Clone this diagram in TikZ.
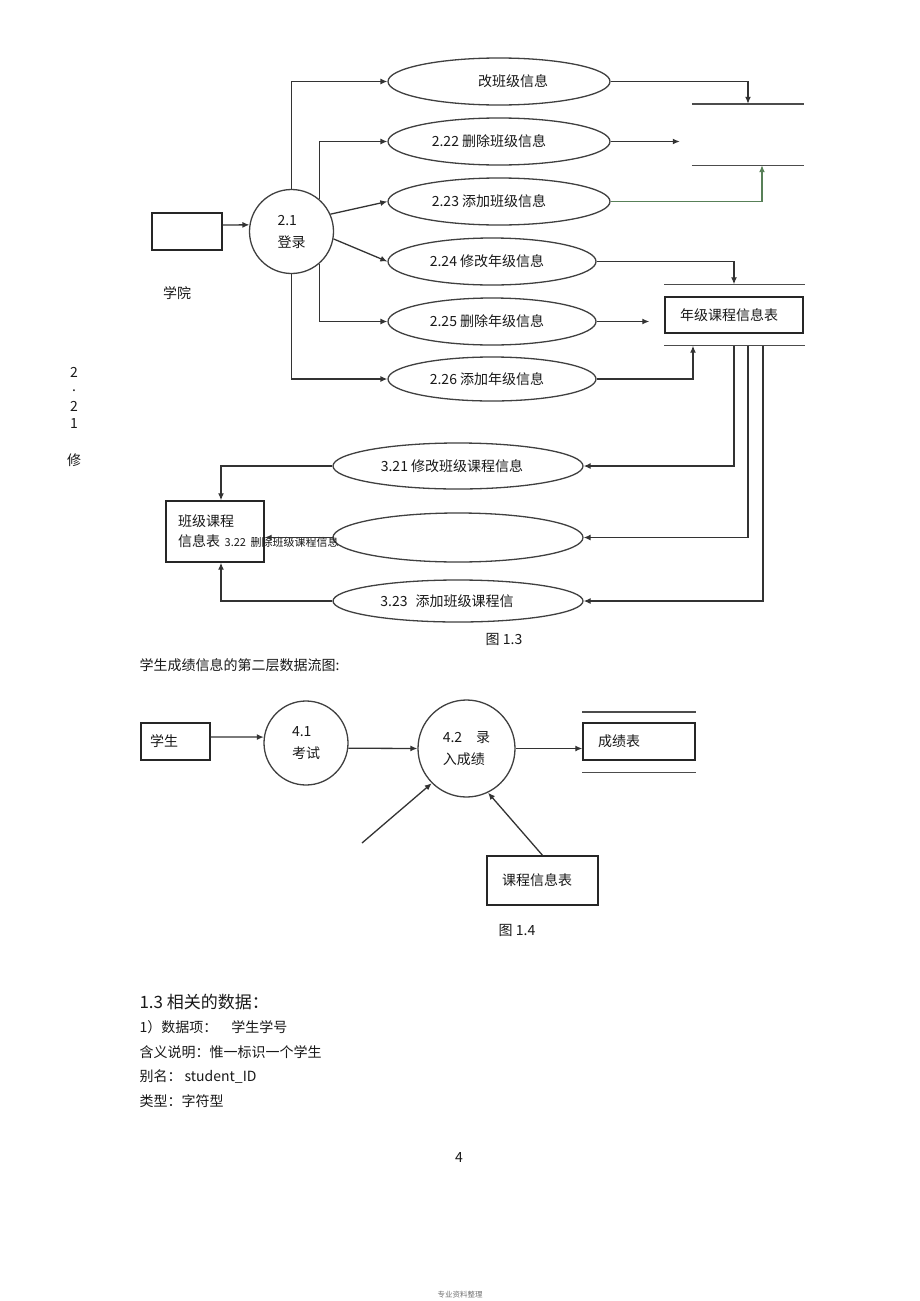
\documentclass[tikz,border=0pt]{standalone}
\usepackage{fontspec}
\setmainfont{Noto Sans CJK SC}
\usetikzlibrary{shapes.geometric,arrows.meta}
\definecolor{flowgreen}{RGB}{88,128,88}

\begin{document}
\begin{tikzpicture}
  [x=1pt,y=-1pt,
    every node/.style={font=\fontsize{14}{20}\selectfont,text=black!90},
    flow/.style={draw=black!80,line width=1.3pt,-{Latex[length=7pt,width=6pt]}},
    oval/.style={ellipse,draw=black!75,line width=1.3pt,inner sep=0pt},
    bubble/.style={circle,draw=black!75,line width=1.3pt,align=left,inner sep=0pt,
      font=\fontsize{14}{22}\selectfont},
    entity/.style={rectangle,draw=black!85,line width=1.4pt,align=left,inner ysep=0pt},
    storeline/.style={draw=black!70,line width=1.4pt},
  ]
  \fill[white] (0,0) rectangle (920,1301);
  \useasboundingbox (0,0) rectangle (920,1301);

  \foreach \y/\t [count=\i] in {372/2,391/.,406/2,424/1,460/修}
    \node (m\i) at (74,\y) {\t};

  \node[entity,minimum width=70pt,minimum height=37pt] (xy) at (187,231.5) {};
  \node (xyl) at (177,293) {学院};
  \node[bubble,minimum size=84pt] (c21) at (291.5,231.5) {2.1\\登录};

  \node[oval,minimum width=222pt,minimum height=47pt] (e21) at (499,81.5) {\hspace*{28pt}改班级信息};
  \node[oval,minimum width=222pt,minimum height=47pt] (e22) at (499,141.5) {2.22 删除班级信息\hspace*{20pt}};
  \node[oval,minimum width=222pt,minimum height=47pt] (e23) at (499,201.5) {2.23 添加班级信息\hspace*{20pt}};
  \node[oval,minimum width=208pt,minimum height=47pt] (e24) at (492,261.5) {2.24 修改年级信息\hspace*{10pt}};
  \node[oval,minimum width=208pt,minimum height=47pt] (e25) at (492,321.5) {2.25 删除年级信息\hspace*{10pt}};
  \node[oval,minimum width=208pt,minimum height=44pt] (e26) at (492,379) {2.26 添加年级信息\hspace*{10pt}};

  \node[minimum width=112pt,minimum height=61pt,inner sep=0pt] (s1) at (748,134.5) {};
  \node[entity,text width=108pt,inner xsep=15pt,minimum height=36pt] (nj) at (734,315) {年级课程信息表};

  \draw[storeline] (s1.north west) -- (s1.north east) (s1.south west) -- (s1.south east);
  \draw[storeline] ([yshift=12pt]nj.north west) -- ([xshift=1pt,yshift=12pt]nj.north east)
    ([yshift=-12pt]nj.south west) -- ([xshift=1pt,yshift=-12pt]nj.south east);

  \draw[flow] ([yshift=6.5pt]xy.east) -- (c21.171);
  \draw[flow] (c21.north) |- (e21.west);
  \draw[flow] (c21.49) |- (e22.west);
  \draw[flow] (c21.24) -- (e23.west);
  \draw[flow] (c21.-10) -- (e24.west);
  \draw[flow] (c21.-49) |- (e25.west);
  \draw[flow] (c21.south) |- (e26.west);

  \draw[flow] (e21.east) -| (s1.north);
  \draw[flow,shorten >=12pt] (e22.east) -- (e22.east -| s1.west);
  \draw[flow,draw=flowgreen] (e23.east) -| ([xshift=14pt]s1.south);
  \draw[flow] (e24.east) -| ([yshift=12pt]nj.north);
  \draw[flow,shorten >=15pt] (e25.east) -- (e25.east -| nj.west);
  \draw[flow] (e26.east) -| ([xshift=-41pt,yshift=-12pt]nj.south);

  \node[oval,minimum width=250pt,minimum height=46pt] (e31) at (458,466) {3.21 修改班级课程信息\hspace*{12pt}};
  \node[oval,minimum width=250pt,minimum height=49pt] (e32) at (458,537.5) {};
  \node[oval,minimum width=250pt,minimum height=42pt] (e33) at (458,601) {3.23\hspace{8pt}添加班级课程信\hspace*{22pt}};
  \node[entity,text width=74pt,inner xsep=12pt,minimum height=61pt] (bjkc) at (215,531.5)
    {班级课程\\信息表 \rlap{\fontsize{11}{13}\selectfont 3.22 删除班级课程信息}};

  \draw[flow] ([yshift=-12pt]nj.south) |- (e31.east);
  \draw[flow] ([xshift=14pt,yshift=-12pt]nj.south) |- (e32.east);
  \draw[flow] ([xshift=29pt,yshift=-12pt]nj.south) |- (e33.east);
  \draw[flow] (e31.west) -| ([xshift=6pt]bjkc.north);
  \draw[flow] (e32.west) -- (e32.west -| bjkc.east);
  \draw[flow] (e33.west) -| ([xshift=6pt]bjkc.south);

  \node (f13) at (504,639) {图 1.3};
  \node[anchor=west] (cap) at (136,665) {学生成绩信息的第二层数据流图:};

  \node[entity,text width=51pt,inner xsep=9pt,minimum height=37pt] (xs) at (175.5,741.5) {学生};
  \node[bubble,minimum size=84pt] (c41) at (306,743) {4.1\\考试};
  \node[bubble,minimum size=97pt] (c42) at (466.5,748.5) {4.2\hspace{14pt}录\\入成绩};
  \node[entity,text width=82pt,inner xsep=15pt,minimum height=37pt] (cj) at (639,741.5) {成绩表};
  \node[entity,text width=81pt,inner xsep=15pt,minimum height=49pt] (kc) at (542.5,880.5) {课程信息表};
  \coordinate (ext) at (362,843);

  \draw[storeline,line width=2.2pt] ([yshift=10pt]cj.north west) -- ([yshift=10pt]cj.north east);
  \draw[storeline] ([yshift=-12pt]cj.south west) -- ([yshift=-12pt]cj.south east);

  \draw[flow] ([yshift=4.5pt]xs.east) -- (c41.172);
  \draw[flow] (c41.-7) -- (c42.west);
  \draw[flow] (c42.east) -- (c42.east -| cj.west);
  \draw[flow] (ext) -- (c42.225);
  \draw[flow] (kc.north) -- (c42.-64);

  \node (f14) at (517,930) {图 1.4};

  \node[anchor=west,font=\fontsize{17}{20}\selectfont] (h13) at (136,1002) {1.3 相关的数据：};
  \node[anchor=west] (d1) at (136,1027) {1）数据项：\hspace{14pt}学生学号};
  \node[anchor=west] (d2) at (136,1052) {含义说明：惟一标识一个学生};
  \node[anchor=west] (d3) at (136,1077) {别名： student\_ID};
  \node[anchor=west] (d4) at (136,1101) {类型：字符型};

  \node (pg) at (459,1157) {4};
  \node[font=\fontsize{7.5}{9}\selectfont,text=black!55] (ft) at (460,1295) {专业资料整理};
\end{tikzpicture}
\end{document}
